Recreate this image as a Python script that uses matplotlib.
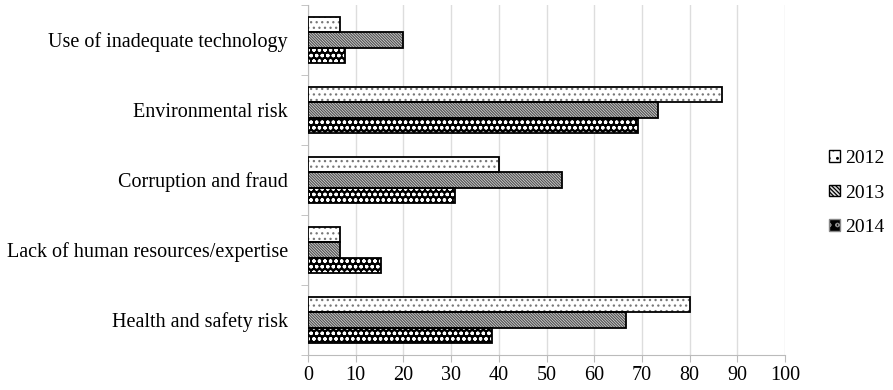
import matplotlib
matplotlib.use("Agg")
import matplotlib.pyplot as plt
import numpy as np
from matplotlib.patches import Patch

plt.rcParams['font.family'] = ['Liberation Serif', 'DejaVu Serif']

categories = ["Health and safety risk",
              "Lack of human resources/expertise",
              "Corruption and fraud",
              "Environmental risk",
              "Use of inadequate technology"]
years = ["2012", "2013", "2014"]
v2012 = [80.0, 6.7, 40.0, 86.7, 6.7]
v2013 = [66.7, 6.7, 53.3, 73.3, 20.0]
v2014 = [38.5, 15.4, 30.8, 69.2, 7.7]
xticks = [0, 10, 20, 30, 40, 50, 60, 70, 80, 90, 100]

plt.rcParams['hatch.linewidth'] = 0.9

fig = plt.figure(figsize=(8.93, 3.90), dpi=100)
ax = fig.add_axes([308/893, 1-355/390, (785-308)/893, 350/390])

y = np.arange(len(categories))
h = 0.215

h12 = '...'
h13 = '\\' * 12
h14 = 'ooo'

# 2012 dotted
ax.barh(y + h, v2012, height=h, color='white', edgecolor='#777777', hatch=h12, linewidth=0, zorder=3)
ax.barh(y + h, v2012, height=h, fill=False, edgecolor='black', linewidth=1.3, zorder=4)
# 2013 diagonal
ax.barh(y, v2013, height=h, color='#e0e0e0', edgecolor='#555555', hatch=h13, linewidth=0, zorder=3)
ax.barh(y, v2013, height=h, fill=False, edgecolor='black', linewidth=1.3, zorder=4)
# 2014 checker
ax.barh(y - h, v2014, height=h, color='black', edgecolor='white', hatch=h14, linewidth=0, zorder=3)
ax.barh(y - h, v2014, height=h, fill=False, edgecolor='black', linewidth=1.3, zorder=4)

ax.set_xlim(0, 100)
ax.set_ylim(-0.5, len(categories) - 0.5)
ax.set_xticks(xticks)
ax.set_xticklabels([str(t) for t in xticks], fontsize=14.5)
ax.set_yticks(y)
ax.set_yticklabels(categories, fontsize=14.5)
ax.set_yticks(np.arange(-0.5, len(categories), 1.0), minor=True)
ax.tick_params(axis='y', which='major', length=0, pad=14.4)
ax.tick_params(axis='y', which='minor', length=5, color='#bbbbbb')
ax.tick_params(axis='x', length=5, color='#bbbbbb', pad=3)

ax.grid(axis='x', color='#dddddd', linewidth=1, zorder=0)
ax.set_axisbelow(True)
for s in ['top', 'right']:
    ax.spines[s].set_visible(False)
ax.spines['left'].set_color('#bbbbbb')
ax.spines['bottom'].set_color('#bbbbbb')

handles = [
    Patch(facecolor='white', edgecolor='black', hatch='..', label=years[0]),
    Patch(facecolor='#e0e0e0', edgecolor='black', hatch='\\' * 8, label=years[1]),
    Patch(facecolor='black', edgecolor='#888888', hatch='oo', label=years[2]),
]
leg = fig.legend(handles=handles, loc='center left', bbox_to_anchor=(829/893, 1-193/390),
                 frameon=False, fontsize=14, handlelength=0.55, handleheight=0.55,
                 handletextpad=0.3, labelspacing=0.9, borderaxespad=0, borderpad=0)

fig.savefig("out.png", dpi=100)
